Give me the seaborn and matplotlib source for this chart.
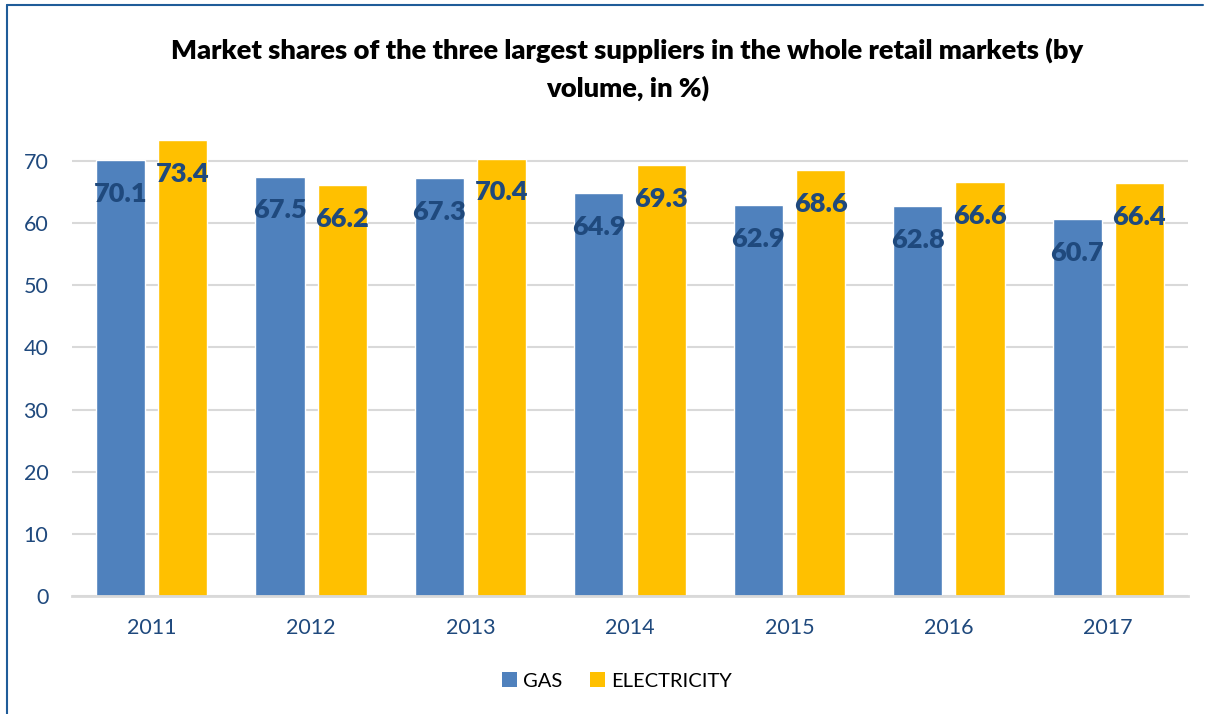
import matplotlib
matplotlib.use("Agg")
import matplotlib.pyplot as plt
from matplotlib.lines import Line2D
from matplotlib.patches import Patch
import seaborn as sns
import pandas as pd

years = ["2011", "2012", "2013", "2014", "2015", "2016", "2017"]
gas = [70.1, 67.5, 67.3, 64.9, 62.9, 62.8, 60.7]
electricity = [73.4, 66.2, 70.4, 69.3, 68.6, 66.6, 66.4]
series = ["GAS", "ELECTRICITY"]
colors = ["#4F81BD", "#FFC000"]
title_lines = ["Market shares of the three largest suppliers in the whole retail markets (by",
               "volume, in %)"]

sns.set_theme(style="white")
plt.rcParams["font.family"] = ["Lato", "DejaVu Sans"]

df = pd.DataFrame({
    "year": years * 2,
    "value": gas + electricity,
    "series": [series[0]] * len(years) + [series[1]] * len(years),
})

fig = plt.figure(figsize=(12.14, 7.14), dpi=100)
ax = fig.add_axes([72 / 1214, 1 - 596 / 714, (1188 - 72) / 1214, 0.6526])

sns.barplot(data=df, x="year", y="value", hue="series", order=years,
            hue_order=series, palette=colors, width=0.78, gap=0.21,
            saturation=1, legend=False, ax=ax, errorbar=None)

label_color = "#1F497D"
for cont in ax.containers:
    ax.bar_label(cont, fmt="%.1f", padding=-33, color=label_color,
                 fontsize=19.5, fontweight="heavy")

ax.set_ylim(0, 75)
ax.set_xlim(-0.5, len(years) - 0.5)
ax.set_yticks(range(0, 71, 10))
ax.yaxis.grid(True, color="#D9D9D9", linewidth=1.5)
ax.set_axisbelow(True)
for s in ["top", "right", "left"]:
    ax.spines[s].set_visible(False)
ax.spines["bottom"].set_color("#D9D9D9")
ax.spines["bottom"].set_linewidth(2)
ax.tick_params(axis="both", length=0, labelsize=15.5, labelcolor="#1F497D")
ax.tick_params(axis="x", pad=16)
ax.tick_params(axis="y", pad=17)
ax.set_xlabel("")
ax.set_ylabel("")

fig.text(627.5 / 1214, 1 - 50 / 714, title_lines[0], ha="center", va="center",
         fontsize=19.6, fontweight="heavy", color="black")
fig.text(627.5 / 1214, 1 - 88 / 714, title_lines[1], ha="center", va="center",
         fontsize=19.6, fontweight="heavy", color="black")

handles = [Patch(facecolor=c, edgecolor="none") for c in colors]
fig.legend(handles, series, loc="center", bbox_to_anchor=(617 / 1214, 1 - 681 / 714),
           ncol=2, frameon=False, fontsize=14.5, handlelength=0.75, handleheight=0.75,
           handletextpad=0.3, columnspacing=1.4, labelcolor="black")

border = "#1F5C99"
fig.add_artist(Line2D([7 / 1214, 7 / 1214], [0, 1 - 5 / 714], color=border, lw=1.5))
fig.add_artist(Line2D([7 / 1214, 1203 / 1214], [1 - 5 / 714, 1 - 5 / 714], color=border, lw=1.5))

fig.savefig("out.png", dpi=100)
